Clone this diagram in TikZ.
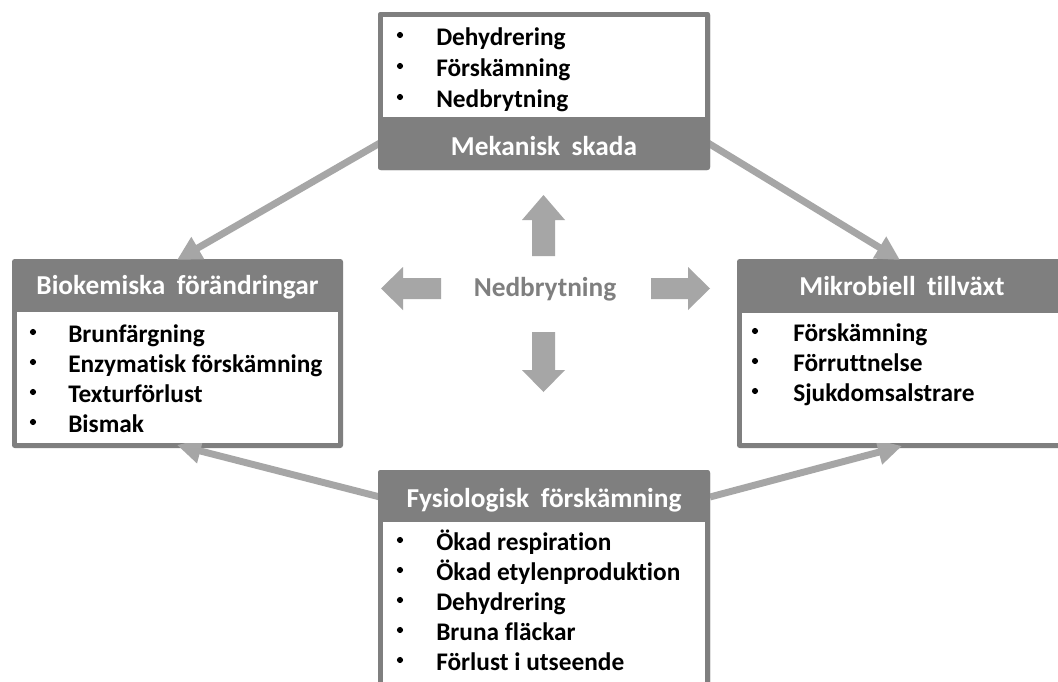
\documentclass[tikz,border=0pt]{standalone}
\usepackage{fontspec}
\setmainfont{Carlito}[Ligatures={NoCommon}]
\usetikzlibrary{arrows.meta}
\definecolor{boxgray}{HTML}{7F7F7F}
\definecolor{arrgray}{HTML}{A6A6A6}
\newcommand{\wsp}{\hspace{0.42em}}
\tikzset{
  boxnode/.style={draw=none, fill=boxgray, rounded corners=2pt, inner sep=0pt, outer sep=0pt},
  inner/.style={fill=white},
  head/.style={anchor=base, inner sep=0pt, text=white, font=\bfseries\fontsize{20.5}{24}\selectfont},
  item/.style={anchor=base west, inner sep=0pt, font=\bfseries\fontsize{19}{23}\selectfont},
  dot/.style={circle, fill=black, inner sep=0pt, minimum size=4.6pt},
  conn/.style={draw=arrgray, line width=5.2pt, -{Triangle[length=18pt,width=18pt]}},
  blockarrow/.style={fill=arrgray, draw=none},
  centertext/.style={inner sep=0pt, text=boxgray, font=\bfseries\fontsize{20.5}{24}\selectfont}
}
\begin{document}
\begin{tikzpicture}[x=0.75pt,y=-0.75pt]
\useasboundingbox (0,0) rectangle (1058,682);
\clip (0,0) rectangle (1058,682);
\fill[white] (0,0) rectangle (1058,682);

% boxes (outer shapes as named nodes)
\node[boxnode, minimum width=249pt, minimum height=118.5pt] (mek) at (544,91) {};
\node[boxnode, minimum width=248.25pt, minimum height=141.75pt] (bio) at (177.5,353.5) {};
\node[boxnode, minimum width=249.75pt, minimum height=141.75pt] (mik) at (903.5,353.5) {};
\node[boxnode, minimum width=249pt, minimum height=172.5pt] (fys) at (544,585) {};

% connectors (drawn under the box faces)
\coordinate (mekL) at ([shift={(2,-27)}]mek.south west);
\coordinate (mekR) at ([shift={(-2,-27)}]mek.south east);
\coordinate (fysL) at ([shift={(2,27)}]fys.north west);
\coordinate (fysR) at ([shift={(0,27)}]fys.north east);
\coordinate (bioT) at ([shift={(165,1)}]bio.north west);
\coordinate (bioB) at ([shift={(165,-3)}]bio.south west);
\coordinate (mikT) at ([shift={(163,1)}]mik.north west);
\coordinate (mikB) at ([shift={(165,-2)}]mik.south west);
\draw[conn] (mekL) -- (bioT);
\draw[conn] (mekR) -- (mikT);
\draw[conn] (fysL) -- (bioB);
\draw[conn] (fysR) -- (mikB);

% redraw box faces over the connector starts
\fill[boxgray, rounded corners=2pt] (mek.north west) rectangle (mek.south east);
\fill[boxgray, rounded corners=2pt] (fys.north west) rectangle (fys.south east);
\fill[inner] ([shift={(5,5)}]mek.north west) rectangle ([shift={(-5,-53)}]mek.south east);
\fill[inner] ([shift={(5,53)}]bio.north west) rectangle ([shift={(-5,-5)}]bio.south east);
\fill[inner] ([shift={(5,54)}]mik.north west) rectangle ([shift={(-5,-5)}]mik.south east);
\fill[inner] ([shift={(5,52)}]fys.north west) rectangle ([shift={(-5,-5)}]fys.south east);

% headers
\node[head] (hmek) at (544,155) {Mekanisk\wsp skada};
\node[head] (hbio) at (177.5,294) {Biokemiska\wsp förändringar};
\node[head] (hmik) at (902,295) {Mikrobiell\wsp tillväxt};
\node[head] (hfys) at (544,507) {Fysiologisk\wsp förskämning};

% top box items
\node[dot] (m1d) at (400,35) {}; \node[item] (m1) at (436,45) {Dehydrering};
\node[dot] (m2d) at (400,66) {}; \node[item] (m2) at (436,76) {Förskämning};
\node[dot] (m3d) at (400,97) {}; \node[item] (m3) at (436,107) {Nedbrytning};

% left box items
\node[dot] (b1d) at (33,332) {}; \node[item] (b1) at (68,342) {Brunfärgning};
\node[dot] (b2d) at (33,362) {}; \node[item] (b2) at (68,372) {Enzymatisk förskämning};
\node[dot] (b3d) at (33,392) {}; \node[item] (b3) at (68,402) {Texturförlust};
\node[dot] (b4d) at (33,422) {}; \node[item] (b4) at (68,432) {Bismak};

% right box items
\node[dot] (k1d) at (755,331) {}; \node[item] (k1) at (793,341) {Förskämning};
\node[dot] (k2d) at (755,361) {}; \node[item] (k2) at (793,371) {Förruttnelse};
\node[dot] (k3d) at (755,391) {}; \node[item] (k3) at (793,401) {Sjukdomsalstrare};

% bottom box items
\node[dot] (f1d) at (400,540) {}; \node[item] (f1) at (436,550) {Ökad respiration};
\node[dot] (f2d) at (400,570) {}; \node[item] (f2) at (436,580) {Ökad etylenproduktion};
\node[dot] (f3d) at (400,600) {}; \node[item] (f3) at (436,610) {Dehydrering};
\node[dot] (f4d) at (400,630) {}; \node[item] (f4) at (436,640) {Bruna fläckar};
\node[dot] (f5d) at (400,660) {}; \node[item] (f5) at (436,670) {Förlust i utseende};

% centre
\node[centertext] (ned) at (545,289) {Nedbrytning};
\fill[blockarrow] (543.5,195) -- (565,220) -- (555,220) -- (555,256) -- (532,256) -- (532,220) -- (522,220) -- cycle;
\fill[blockarrow] (543.5,392) -- (565,370) -- (555,370) -- (555,332) -- (532,332) -- (532,370) -- (522,370) -- cycle;
\fill[blockarrow] (381,288.5) -- (403,267) -- (403,278) -- (441,278) -- (441,299) -- (403,299) -- (403,310) -- cycle;
\fill[blockarrow] (710,288.5) -- (688,267) -- (688,278) -- (651,278) -- (651,299) -- (688,299) -- (688,310) -- cycle;
\end{tikzpicture}
\end{document}
